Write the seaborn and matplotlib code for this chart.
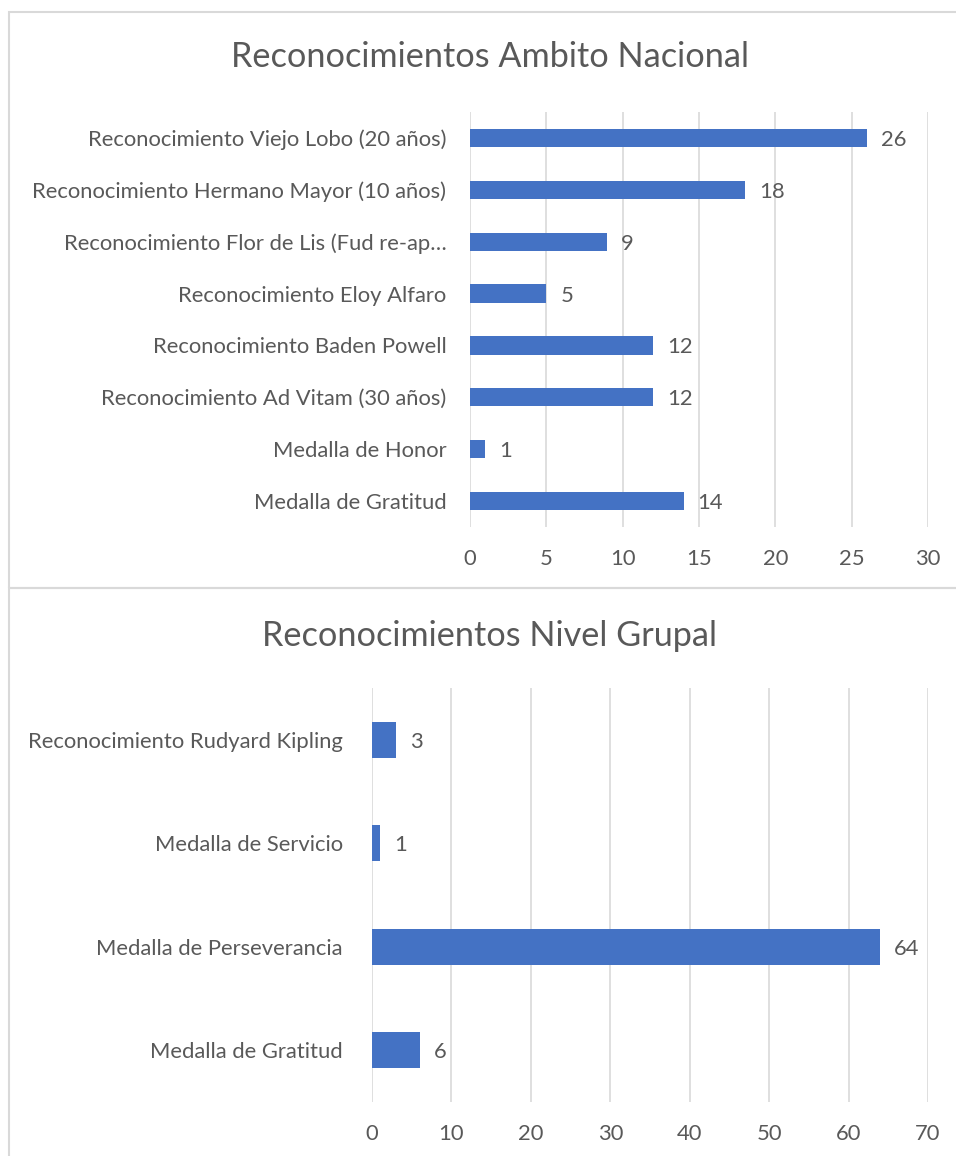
"""Reconocimientos: ambito nacional y nivel grupal."""

import matplotlib.pyplot as plt
import seaborn as sns
import pandas as pd
from matplotlib.patches import Rectangle

nacional_labels = [
    "Reconocimiento Viejo Lobo (20 años)",
    "Reconocimiento Hermano Mayor (10 años)",
    "Reconocimiento Flor de Lis (Fud re-ap…",
    "Reconocimiento Eloy Alfaro",
    "Reconocimiento Baden Powell",
    "Reconocimiento Ad Vitam (30 años)",
    "Medalla de Honor",
    "Medalla de Gratitud",
]
nacional_values = [26, 18, 9, 5, 12, 12, 1, 14]
nacional_ticks = [0, 5, 10, 15, 20, 25, 30]

grupal_labels = [
    "Reconocimiento Rudyard Kipling",
    "Medalla de Servicio",
    "Medalla de Perseverancia",
    "Medalla de Gratitud",
]
grupal_values = [3, 1, 64, 6]
grupal_ticks = [0, 10, 20, 30, 40, 50, 60, 70]

BAR = "#4472C4"
TEXT = "#595959"
GRID = "#D9D9D9"
FS = 15.8

sns.set_style("white")
plt.rcParams["font.family"] = ["Lato", "DejaVu Sans"]

W, H = 956, 1156
fig = plt.figure(figsize=(W / 100, H / 100), dpi=100)


def px_axes(left, top, right, bottom):
    return fig.add_axes([left / W, 1 - bottom / H, (right - left) / W, (bottom - top) / H])


def draw(ax, labels, values, ticks, label_pad, value_off):
    df = pd.DataFrame({"label": labels, "value": values})
    sns.barplot(data=df, x="value", y="label", orient="h", color=BAR,
                width=0.35, saturation=1, linewidth=0, ax=ax)
    ax.set_xlim(ticks[0], ticks[-1])
    ax.set_xticks(ticks)
    ax.grid(axis="x", color=GRID, linewidth=1.2)
    ax.grid(axis="y", visible=False)
    ax.set_axisbelow(True)
    for s in ax.spines.values():
        s.set_visible(False)
    ax.set_xlabel("")
    ax.set_ylabel("")
    ax.tick_params(axis="x", length=0, pad=16, labelsize=FS, labelcolor=TEXT)
    ax.tick_params(axis="y", length=0, pad=label_pad, labelsize=FS, labelcolor=TEXT)
    for i, v in enumerate(values):
        ax.annotate(str(v), (v, i), xytext=(value_off, 0), textcoords="offset points",
                    va="center_baseline", ha="left", fontsize=FS, color=TEXT)


ax1 = px_axes(470, 112, 928, 527)
draw(ax1, nacional_labels, nacional_values, nacional_ticks, 17, 10)

ax2 = px_axes(372, 688, 928, 1102)
draw(ax2, grupal_labels, grupal_values, grupal_ticks, 21, 10)

fig.text(490 / W, 1 - 57 / H, "Reconocimientos Ambito Nacional", ha="center",
         va="center", fontsize=24.7, color=TEXT)
fig.text(490 / W, 1 - 636 / H, "Reconocimientos Nivel Grupal", ha="center",
         va="center", fontsize=24.7, color=TEXT)

# chart frames
fig.patches.append(Rectangle((9 / W, 1 - 588 / H), (W + 5 - 9) / W, (588 - 12) / H,
                             transform=fig.transFigure, fill=False,
                             edgecolor=GRID, linewidth=1.5))
fig.patches.append(Rectangle((9 / W, -0.01), (W + 5 - 9) / W, 0.01 + (1156 - 588) / H,
                             transform=fig.transFigure, fill=False,
                             edgecolor=GRID, linewidth=1.5))

fig.savefig("out.png", dpi=100)
